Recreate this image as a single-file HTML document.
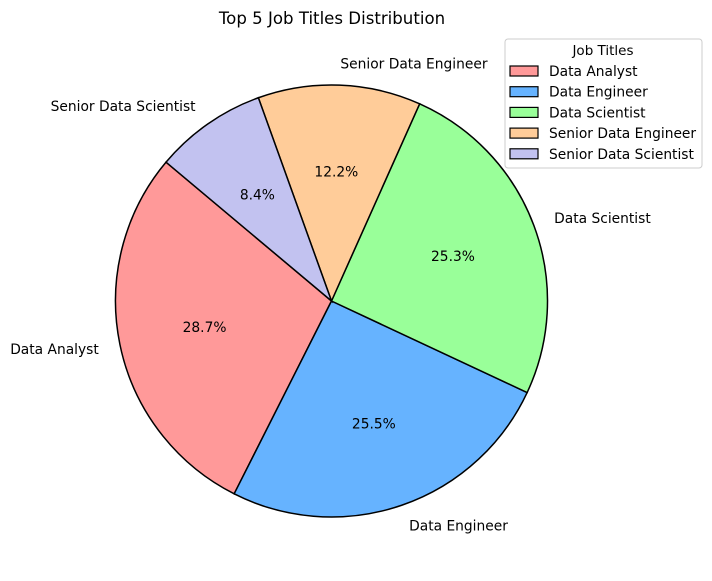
<!DOCTYPE html>
<html><head><meta charset="utf-8"><style>
body{margin:0;background:#fff;}
svg{display:block;font-family:"DejaVu Sans","Liberation Sans",sans-serif;}
</style></head><body>
<svg id="chart" width="712" height="581">
<text x="332" y="24" text-anchor="middle" font-size="16.6">Top 5 Job Titles Distribution</text>
<g id="slices"></g>
<g id="legend">
<rect x="505" y="39" width="197" height="129" rx="3" fill="#fff" stroke="#ccc"/>
<text x="603" y="55" text-anchor="middle" font-size="13.5">Job Titles</text>
</g>
</svg>
<script>
const categories=["Data Analyst","Data Engineer","Data Scientist","Senior Data Engineer","Senior Data Scientist"];
const values=[28.7,25.5,25.3,12.2,8.4];
const colors=["#ff9999","#66b3ff","#99ff99","#ffcc99","#c2c2f0"];
const cx=331.5,cy=301,r=216,start=140;
const NS="http://www.w3.org/2000/svg";
const g=document.getElementById('slices');
const total=values.reduce((a,b)=>a+b,0);
function pt(a,rr){const t=a*Math.PI/180;return [cx+rr*Math.cos(t),cy-rr*Math.sin(t)];}
let a0=start;
values.forEach((v,i)=>{
 const a1=a0+v/total*360;
 const p0=pt(a0,r),p1=pt(a1,r);
 const large=(a1-a0)>180?1:0;
 const path=document.createElementNS(NS,'path');
 path.setAttribute('d',`M${cx},${cy} L${p0[0]},${p0[1]} A${r},${r} 0 ${large} 0 ${p1[0]},${p1[1]} Z`);
 path.setAttribute('fill',colors[i]);path.setAttribute('stroke','#000');path.setAttribute('stroke-width','1.5');
 
 
 g.appendChild(path);
 const mid=(a0+a1)/2;
 const lp=pt(mid,r*1.1);
 const lab=document.createElementNS(NS,'text');
 lab.setAttribute('x',lp[0]);lab.setAttribute('y',lp[1]+5);lab.setAttribute('font-size','13.8');
 lab.setAttribute('text-anchor',lp[0]>=cx?'start':'end');
 lab.textContent=categories[i];
 
 
 g.appendChild(lab);
 const pp=pt(mid,r*0.6);
 const pc=document.createElementNS(NS,'text');
 pc.setAttribute('x',pp[0]);pc.setAttribute('y',pp[1]+5);pc.setAttribute('font-size','13.8');pc.setAttribute('text-anchor','middle');
 pc.textContent=v.toFixed(1)+'%';
 
 
 g.appendChild(pc);
 a0=a1;
});
const lg=document.getElementById('legend');
categories.forEach((c,i)=>{
 const y=66+i*20.7;
 const rc=document.createElementNS(NS,'rect');
 rc.setAttribute('x',510);rc.setAttribute('y',y);rc.setAttribute('width',28);rc.setAttribute('height',10);
 rc.setAttribute('fill',colors[i]);rc.setAttribute('stroke','#000');rc.setAttribute('stroke-width','1.2');
 
 
 lg.appendChild(rc);
 const t=document.createElementNS(NS,'text');
 t.setAttribute('x',549);t.setAttribute('y',y+10);t.setAttribute('font-size','13.8');
 t.textContent=c;
 
 
 lg.appendChild(t);
});
</script>
</body></html>
